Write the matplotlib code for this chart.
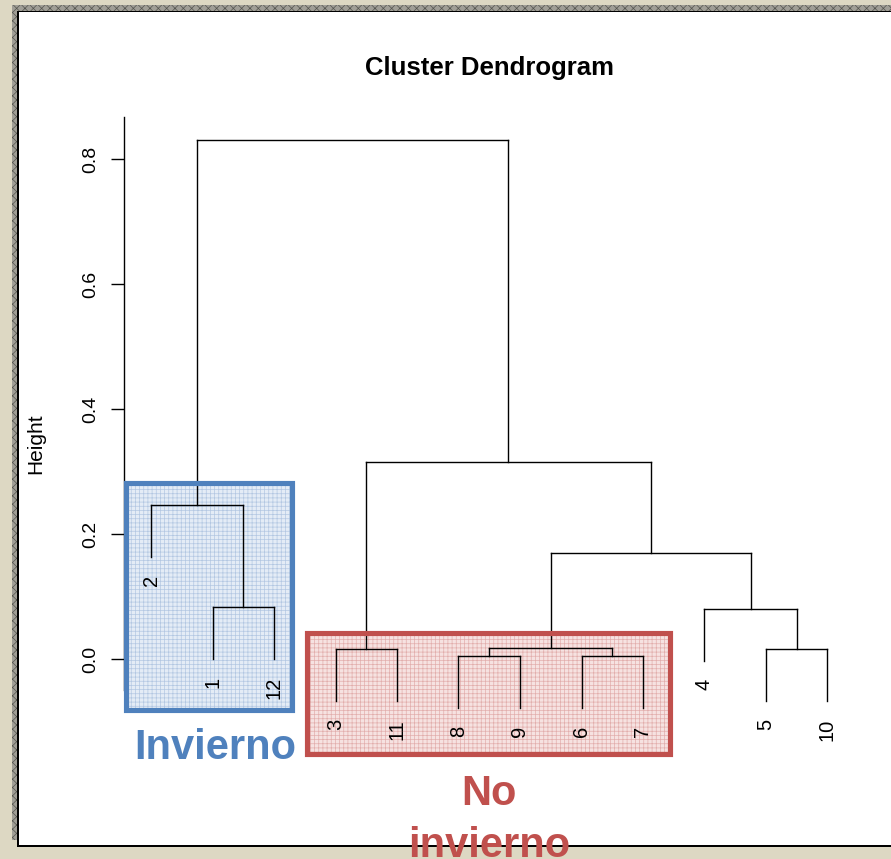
import matplotlib
matplotlib.use("Agg")
import matplotlib.pyplot as plt
from matplotlib.patches import Rectangle

plt.rcParams["font.family"] = ["Liberation Sans", "DejaVu Sans"]
plt.rcParams["hatch.linewidth"] = 0.5

# leaf labels in plotting order
leaf_order = [2, 1, 12, 3, 11, 8, 9, 6, 7, 4, 5, 10]
# merges R-style: negative = leaf, positive = earlier merge (1-based)
merge_a = [-8, -6, 1, -3, -5, -1, -4, 3, -2, 4, 9]
merge_b = [-9, -7, 2, -11, -10, -12, 5, 7, 6, 8, 10]
merge_h = [0.005, 0.005, 0.017, 0.016, 0.016, 0.083, 0.080, 0.169, 0.246, 0.315, 0.830]
yticks = [0.0, 0.2, 0.4, 0.6, 0.8]

W, H = 891, 859
def fx(px):
    return px / W
def fy(py):
    return 1 - py / H

fig = plt.figure(figsize=(W / 100, H / 100), dpi=100)
fig.patch.set_facecolor("#DDD8C3")

# frame decorations
fig.add_artist(Rectangle((fx(12), fy(840)), fx(7), fy(5) - fy(840), facecolor="#A09E96",
                         edgecolor="#55554f", hatch="xxxx", lw=0, zorder=-10))
fig.add_artist(Rectangle((fx(12), fy(12)), 1, fy(5) - fy(12), facecolor="#A09E96",
                         edgecolor="#55554f", hatch="xxxx", lw=0, zorder=-10))
fig.add_artist(Rectangle((fx(17), fy(847)), 1, fy(11) - fy(847), facecolor="black", lw=0, zorder=-9))
fig.add_artist(Rectangle((fx(19), fy(845)), 1, fy(12) - fy(845), facecolor="white", lw=0, zorder=-8))

# cluster boxes: fill below the tree, border above
boxes = [((125.5, 482.5, 291.5, 709.5), "#E4ECF6", "#B3C7E2", "#4F81BD"),
         ((306.5, 633, 669.5, 754), "#F6E2E1", "#E2AEAC", "#C0504D")]
for (x0, y0, x1, y1), fc, hc, ec in boxes:
    fig.add_artist(Rectangle((fx(x0), fy(y1)), fx(x1) - fx(x0), fy(y0) - fy(y1),
                             facecolor=fc, edgecolor=hc, hatch="++++", lw=0, zorder=-1))
    fig.add_artist(Rectangle((fx(x0), fy(y1)), fx(x1) - fx(x0), fy(y0) - fy(y1),
                             facecolor="none", edgecolor=ec, lw=3.7, zorder=1))

ax = fig.add_axes([fx(124), 0, 1 - fx(124), 1])
ax.patch.set_visible(False)
ax.set_xlim(1 - 27 / 61.5, 1 + 740 / 61.5)
ax.set_ylim(-200 / 625, 659 / 625)

hang = 0.1 * max(merge_h)
pos = {}
def node(i):
    if i < 0:
        return leaf_order.index(-i) + 1
    return pos[i]

for k in range(len(merge_h)):
    h = merge_h[k]
    xs = []
    for c in (merge_a[k], merge_b[k]):
        xc = node(c)
        yc = h - hang if c < 0 else merge_h[c - 1]
        ax.plot([xc, xc], [yc, h], color="black", lw=1.0)
        xs.append(xc)
        if c < 0:
            ax.annotate(str(-c), (xc, yc), xytext=(0, -13), textcoords="offset points",
                        rotation=90, ha="center", va="top", fontsize=14.5)
    ax.plot(xs, [h, h], color="black", lw=1.0)
    pos[k + 1] = sum(xs) / 2

for s in ["top", "right", "bottom"]:
    ax.spines[s].set_visible(False)
ax.spines["left"].set_bounds(-0.05, 0.867)
ax.spines["left"].set_linewidth(1.0)
ax.set_xticks([])
ax.set_yticks(yticks)
ax.set_yticklabels([f"{v:.1f}" for v in yticks], rotation=90, va="center", fontsize=14)
ax.tick_params(axis="y", length=9.4, width=1.0, pad=8.5)

fig.text(fx(489.5), fy(68), "Cluster Dendrogram", ha="center", va="center",
         fontsize=18.5, fontweight="bold")
fig.text(fx(35.5), fy(443.5), "Height", ha="center", va="center", rotation=90, fontsize=15)

fig.text(fx(215), fy(759), "Invierno", ha="center", va="baseline", fontsize=30,
         fontweight="bold", color="#4F81BD")
fig.text(fx(489), fy(805), "No", ha="center", va="baseline", fontsize=30,
         fontweight="bold", color="#C0504D")
fig.text(fx(489), fy(857), "invierno", ha="center", va="baseline", fontsize=30,
         fontweight="bold", color="#C0504D")

fig.savefig("out.png", dpi=100)
